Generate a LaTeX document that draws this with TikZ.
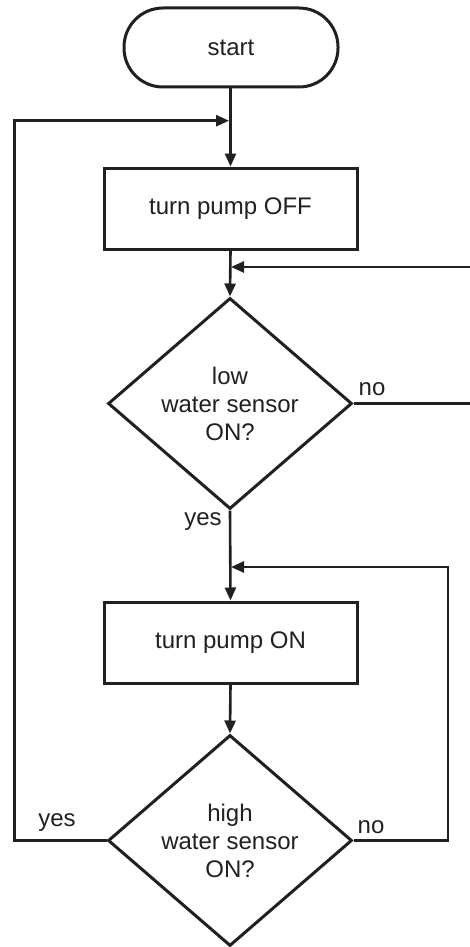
\documentclass[tikz,border=0pt]{standalone}
\usepackage{fontspec}
\setmainfont{Liberation Sans}
\usetikzlibrary{shapes.geometric,arrows.meta}
\definecolor{ink}{HTML}{231F20}
\begin{document}
\begin{tikzpicture}[x=1pt,y=-1pt,
  every node/.style={font=\fontsize{24}{28}\selectfont, text=ink},
  base/.style={draw=ink, line width=3pt, fill=white, inner sep=0pt, align=center},
  term/.style={base, rectangle, rounded corners=39pt, minimum width=214pt, minimum height=79pt},
  proc/.style={base, rectangle, minimum width=253pt, minimum height=81pt},
  decis/.style={base, diamond, minimum width=244pt, minimum height=211pt},
  conn/.style={draw=ink, line width=2.6pt},
  arr/.style={conn, -{Triangle[length=13pt,width=11pt]}},
  lbl/.style={inner sep=0pt}]
\useasboundingbox (0,0) rectangle (469,947);
\node[term] (start) at (231,47.5) {start};
\node[proc] (off) at (230.5,208.5) {turn pump OFF};
\node[decis] (low) at (230,403.5) {low\\water sensor\\ON?};
\node[proc] (on) at (230.5,642.5) {turn pump ON};
\node[decis] (high) at (230,840.5) {high\\water sensor\\ON?};
\coordinate (j1) at (229,120.7);
\coordinate (j2) at (231,267);
\coordinate (j3) at (231,567);
\coordinate (r1) at (470,267);
\coordinate (r2) at (470,403.5);
\coordinate (lcorner) at (14.5,840.5);
\coordinate (rcorner) at (448,840.5);
\draw[arr] (start.south -| off.north) -- (off.north);
\draw[arr] (off.south) -- (low.north);
\draw[arr] (low.south) -- (on.north);
\draw[arr] (on.south) -- (high.north);
\draw[arr] (high.west) -- (lcorner) |- (j1);
\draw[arr] (r1) -- (j2);
\draw[conn] (low.east) -- (r2);
\draw[arr] (high.east) -- (rcorner) |- (j3);
\node[lbl] (nolow) at (372,389) {no};
\node[lbl] (yeslow) at (203,522) {yes};
\node[lbl] (yeshigh) at (57,823) {yes};
\node[lbl] (nohigh) at (371,827) {no};
\end{tikzpicture}
\end{document}
